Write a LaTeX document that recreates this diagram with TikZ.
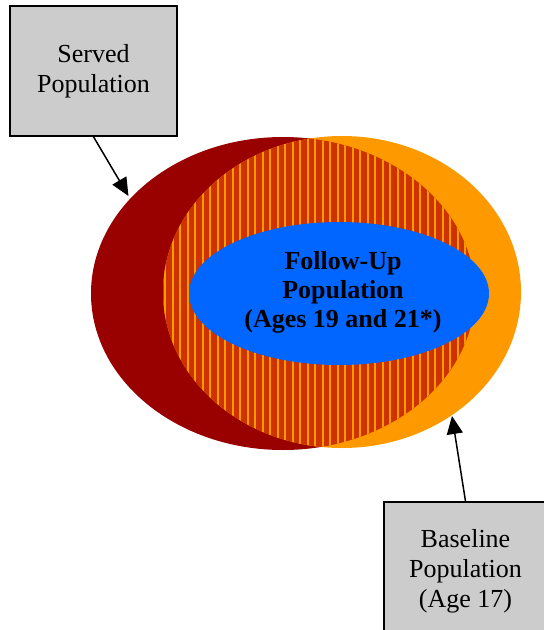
\documentclass[tikz,border=0pt]{standalone}
\usepackage{fontspec}
\setmainfont{Liberation Serif}
\usetikzlibrary{arrows.meta,shapes.geometric}
\definecolor{servedred}{HTML}{990000}
\definecolor{baseorange}{HTML}{FF9900}
\definecolor{hatchbase}{HTML}{CC3300}
\definecolor{followblue}{HTML}{0066FF}
\definecolor{boxgray}{HTML}{CCCCCC}
\tikzset{
  labelbox/.style={draw=black, line width=1.5pt, fill=boxgray, rectangle, align=center,
    font=\fontsize{26}{30}\selectfont, inner sep=0pt},
  pointer/.style={line width=1.5pt, -{Triangle[length=18pt,width=16pt]}},
  stripe/.style={baseorange, line width=2pt}
}
\begin{document}
\begin{tikzpicture}[x=1pt,y=-1pt]
\useasboundingbox (0,0) rectangle (544,630);
% served population ellipse (dark red)
\fill[servedred] (283,293.5) ellipse [x radius=192, y radius=156.5];
% baseline population ellipse (orange)
\fill[baseorange] (342,292) ellipse [x radius=179, y radius=156];
% overlap, hatched
\begin{scope}
  \clip (283,293.5) ellipse [x radius=192, y radius=156.5];
  \clip (342,292) ellipse [x radius=179, y radius=156];
  \fill[hatchbase] (150,130) rectangle (530,460);
  \foreach \k in {0,...,50} {
    \draw[stripe] ({157.5+7.5*\k},130) -- ({157.5+7.5*\k},460);
  }
\end{scope}
% follow-up population
\node[ellipse, fill=followblue, minimum width=300pt, minimum height=143pt, inner sep=0pt] (follow) at (339,293.5) {};
\node[align=center, font=\bfseries\fontsize{26}{29}\selectfont, inner sep=0pt] (followtext) at (343,292)
  {Follow-Up\\Population\\(Ages 19 and 21*)};
% boxes
\node[labelbox, minimum width=167pt, minimum height=130pt] (served) at (93.5,71) {Served\\Population};
\node[labelbox, minimum width=163pt, minimum height=138pt] (baseline) at (465.5,571) {Baseline\\Population\\(Age 17)};
% arrow targets on the ellipses
\coordinate (servedtip) at (128.5,196);
\coordinate (basetip) at (452,416);
\draw[pointer] (served.south) -- (servedtip);
\draw[pointer] (baseline.north) -- (basetip);
\end{tikzpicture}
\end{document}
